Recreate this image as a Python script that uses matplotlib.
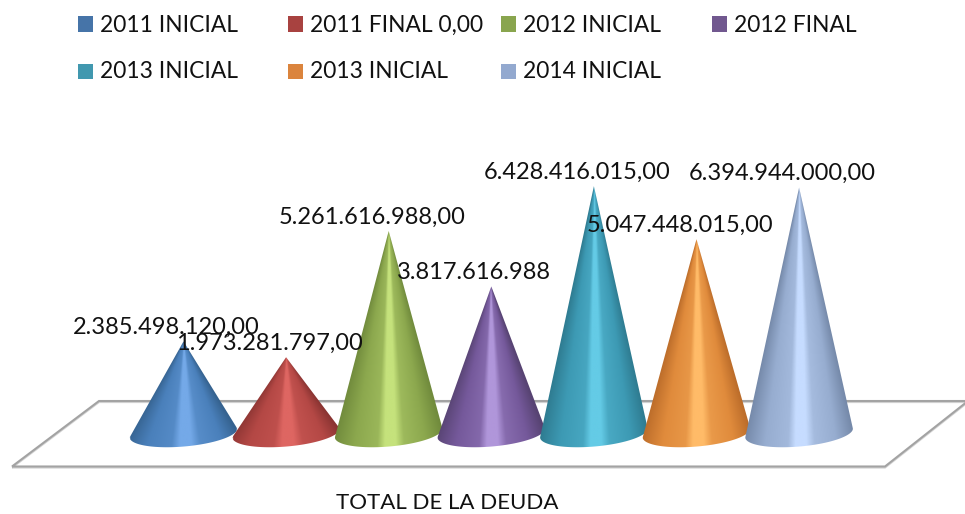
import numpy as np
import matplotlib
matplotlib.use("Agg")
import matplotlib.pyplot as plt
from matplotlib.patches import Polygon, Rectangle

W, H = 965, 514

categories = ["2011 INICIAL", "2011 FINAL 0,00", "2012 INICIAL", "2012 FINAL",
              "2013 INICIAL", "2013 INICIAL", "2014 INICIAL"]
values = [2385498120.00, 1973281797.00, 5261616988.00, 3817616988.00,
          6428416015.00, 5047448015.00, 6394944000.00]
value_labels = ["2.385.498.120,00", "1.973.281.797,00", "5.261.616.988,00", "3.817.616.988",
                "6.428.416.015,00", "5.047.448.015,00", "6.394.944.000,00"]
axis_label = "TOTAL DE LA DEUDA"

legend_colors = ["#4674a8", "#a84240", "#89a54e", "#71588f", "#4198af", "#db843d", "#93a9cf"]
dark_colors = ["#35628f", "#8a3432", "#708a3c", "#574372", "#2e7a8f", "#bb6c2a", "#7488a8"]
mid_colors = ["#4a80bb", "#b44845", "#8ca84e", "#75599b", "#3d9ab4", "#e08b3c", "#97add0"]
light_colors = ["#74a9e8", "#de6662", "#c5e27c", "#b096da", "#64cbe6", "#ffbb68", "#c6dcff"]

plt.rcParams["font.family"] = ["Lato", "DejaVu Sans"]
FS_VALUE = 17.0
FS_LEGEND = 16.4
FS_AXIS = 16.0

fig = plt.figure(figsize=(W / 100, H / 100), dpi=100)
ax = fig.add_axes([0, 0, 1, 1])

# Scales: pixels per category / pixels per unit of value
PX_CAT = 102.6
PX_VAL = 38.4 / 1e9
X0, Y0 = 183.5, 433.0
xlim = ((0 - X0) / PX_CAT, (W - X0) / PX_CAT)
ylim = ((Y0 - H) / PX_VAL, (Y0 - 0) / PX_VAL)
ax.set_xlim(xlim)
ax.set_ylim(ylim)
ax.axis("off")


def fx(x):
    return x / W


def fy(y):
    return 1 - y / H


# Floor
floor = [(12, 466.5), (99, 401), (968, 401), (885, 466.5)]
fig.add_artist(Polygon([(fx(a), fy(b + 1)) for a, b in floor], closed=True, fill=False,
                       ec="#d4d4d4", lw=1.6, transform=fig.transFigure, zorder=0))
fig.add_artist(Polygon([(fx(a), fy(b)) for a, b in floor], closed=True, fill=False,
                       ec="#a3a3a3", lw=1.5, transform=fig.transFigure, zorder=0))


def hex_rgb(h):
    return np.array(matplotlib.colors.to_rgb(h))


def draw_cone(i, v, dark, mid, light):
    A, B = 54.0, 13.5
    tilt = np.deg2rad(-5.0)
    xc, yc = i, 0.0
    apex_dy = -v * PX_VAL  # pixels, y down
    t = np.linspace(0, 2 * np.pi, 721)[:-1]
    ex = A * np.cos(t) * np.cos(tilt) - B * np.sin(t) * np.sin(tilt)
    ey = A * np.cos(t) * np.sin(tilt) + B * np.sin(t) * np.cos(tilt)
    nx = np.cos(t) / A * np.cos(tilt) - np.sin(t) / B * np.sin(tilt)
    ny = np.cos(t) / A * np.sin(tilt) + np.sin(t) / B * np.cos(tilt)
    keep = nx * ex + ny * (ey - apex_dy) > 0
    order = np.argsort(ex[keep])
    arc_x, arc_y = ex[keep][order], ey[keep][order]
    poly_px = [(0.0, apex_dy)] + list(zip(arc_x, arc_y))
    poly = [(xc + a / PX_CAT, yc - b / PX_VAL) for a, b in poly_px]

    top, bot = apex_dy, arc_y.max() + 1
    left, right = -A - 2, A + 2
    nx_im, ny_im = 240, max(int(bot - top) * 2, 2)
    gx = np.linspace(left, right, nx_im)
    gy = np.linspace(top, bot, ny_im)
    xx, yy = np.meshgrid(gx, gy)
    frac = np.clip((yy - top) / (0 - top), 0.02, None)
    u = xx / (A * frac)
    stops = [-1.0, -0.6, -0.2, -0.07, 0.12, 0.27, 0.65, 1.0]
    m, l = hex_rgb(mid), hex_rgb(light)
    cols = np.array([hex_rgb(dark), m, 0.75 * m + 0.25 * l, l, l, 0.7 * m + 0.3 * l, m, hex_rgb(dark)])
    img = np.stack([np.interp(u, stops, cols[:, c]) for c in range(3)], axis=-1)
    extent = (xc + left / PX_CAT, xc + right / PX_CAT, yc - bot / PX_VAL, yc - top / PX_VAL)
    im = ax.imshow(img, extent=extent, origin="upper", aspect="auto", zorder=2 + i * 0.01,
                   interpolation="bilinear")
    clip = Polygon(poly, closed=True, transform=ax.transData, fc="none", ec="none")
    ax.add_patch(clip)
    im.set_clip_path(clip)


for i, v in enumerate(values):
    draw_cone(i, v, dark_colors[i], mid_colors[i], light_colors[i])
ax.set_xlim(xlim)
ax.set_ylim(ylim)

# Value labels
for i, (v, s) in enumerate(zip(values, value_labels)):
    ax.annotate(s, xy=(i, v), xytext=(-17 * 0.72, 14 * 0.72), textcoords="offset points",
                ha="center", va="center", fontsize=FS_VALUE, color="#111111", zorder=10)

# Category label
fig.text(fx(447), fy(503), axis_label, ha="center", va="center", fontsize=FS_AXIS, color="#111111")

# Legend
legend_slots = [(78, 24), (288, 24), (501, 24), (712, 24), (78, 71), (288, 71), (501, 71)]
for (lx, ly), name, col in zip(legend_slots, categories, legend_colors):
    fig.add_artist(Rectangle((fx(lx), fy(ly + 7.5)), 15 / W, 15 / H, fc=col, ec="none",
                             transform=fig.transFigure))
    fig.text(fx(lx + 22), fy(ly + 1), name, ha="left", va="center", fontsize=FS_LEGEND, color="#111111")

fig.savefig("out.png", dpi=100)
